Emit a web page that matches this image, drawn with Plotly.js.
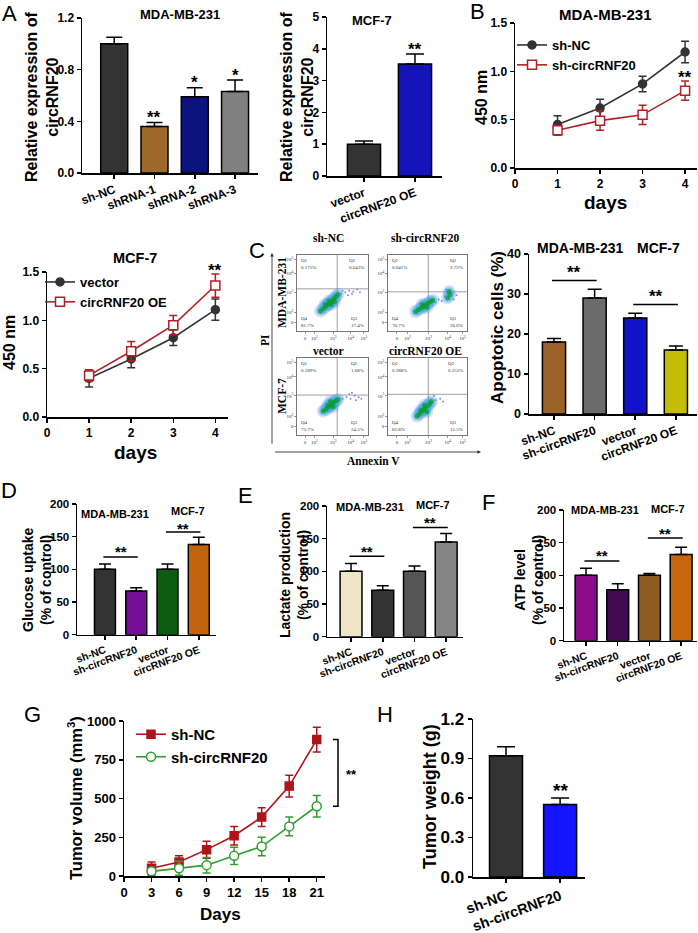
<!DOCTYPE html>
<html><head><meta charset="utf-8">
<script src="https://cdn.plot.ly/plotly-3.0.1.min.js"></script>
<style>html,body{margin:0;padding:0;background:#fff}</style>
</head><body><div id="chart" style="width:698px;height:933px"></div>
<script>
// ================= DATA =================
const aMdaCats = ['sh-NC', 'shRNA-1', 'shRNA-2', 'shRNA-3'];
const aMdaVals = [1.0, 0.36, 0.59, 0.63];
const aMdaErr = [0.05, 0.03, 0.07, 0.09];
const aMdaStars = ['', '**', '*', '*'];

const aMcfCats = ['vector', 'circRNF20 OE'];
const aMcfVals = [1.0, 3.52];
const aMcfErr = [0.1, 0.32];
const aMcfStars = ['', '**'];

const days = [1, 2, 3, 4];
const bShNC = [0.45, 0.62, 0.87, 1.20];
const bShNCErr = [0.09, 0.09, 0.08, 0.11];
const bShCirc = [0.39, 0.49, 0.55, 0.80];
const bShCircErr = [0.05, 0.10, 0.10, 0.10];

const mVector = [0.40, 0.60, 0.82, 1.11];
const mVectorErr = [0.09, 0.09, 0.08, 0.11];
const mOE = [0.43, 0.68, 0.95, 1.36];
const mOEErr = [0.06, 0.10, 0.10, 0.12];

const groupCats = ['sh-NC', 'sh-circRNF20', 'vector', 'circRNF20 OE'];
const apopVals = [18, 29, 24, 16];
const apopErr = [0.9, 2.2, 1.2, 1.0];
const glucoseVals = [100, 67, 100, 138];
const glucoseErr = [8, 5, 8, 11];
const lactateVals = [100, 71, 100, 145];
const lactateErr = [12, 7, 8, 13];
const atpVals = [100, 78, 100, 132];
const atpErr = [11, 9, 3, 11];

const tumorDays = [3, 6, 9, 12, 15, 18, 21];
const gShNC = [50, 90, 170, 260, 380, 580, 880];
const gShNCErr = [40, 40, 55, 60, 60, 70, 80];
const gShCirc = [30, 50, 70, 130, 190, 320, 450];
const gShCircErr = [25, 45, 50, 55, 60, 60, 70];

const hCats = ['sh-NC', 'sh-circRNF20'];
const hVals = [0.92, 0.55];
const hErr = [0.07, 0.05];

// flow cytometry (estimated from the dot plots)
const flowTitles = ['sh-NC', 'sh-circRNF20', 'vector', 'circRNF20 OE'];
const flowQ1 = ['0.175%', '0.041%', '0.189%', '0.288%'];
const flowQ2 = ['0.643%', '2.72%', '1.68%', '0.353%'];
const flowQ3 = ['17.4%', '26.6%', '24.5%', '15.5%'];
const flowQ4 = ['81.7%', '70.7%', '73.7%', '83.8%'];
const flowGateX = [3.0, 2.7, 3.0, 2.7];
const flowGateY = [2.94, 2.73, 2.75, 2.8];
const flowCoreX = [
  [1.75, 1.95, 2.15, 2.3, 2.45, 2.6, 2.75, 2.9, 3.05, 2.1, 2.55, 2.4, 2.8],
  [1.85, 2.05, 2.25, 2.4, 2.55, 2.7, 2.85, 3.0, 2.3, 2.6, 4.0, 4.15, 4.1],
  [1.95, 2.15, 2.3, 2.45, 2.6, 2.75, 2.9, 3.05, 2.3, 2.7, 2.5],
  [1.95, 2.1, 2.25, 2.4, 2.5, 2.65, 2.8, 2.9, 2.2, 2.6, 2.45]];
const flowCoreY = [
  [1.4, 1.55, 1.7, 1.85, 1.95, 2.1, 2.25, 2.4, 2.55, 1.85, 1.85, 2.1, 2.05],
  [1.35, 1.5, 1.6, 1.75, 1.85, 1.95, 2.05, 2.15, 1.85, 1.65, 2.3, 2.55, 2.75],
  [1.65, 1.75, 1.9, 2.0, 2.1, 2.25, 2.35, 2.45, 2.05, 1.95, 2.3],
  [1.3, 1.45, 1.6, 1.75, 1.85, 2.0, 2.15, 2.3, 1.7, 1.6, 2.05]];
const flowSparseX = [[3.3, 3.6, 3.9, 4.2, 4.5, 3.8, 4.1, 3.4, 4.7], [3.4, 3.8, 3.6, 4.4, 3.9, 3.2, 4.6], [3.4, 3.7, 4.0, 4.3, 4.6, 4.8, 3.9, 4.4, 4.1], [3.2, 3.5, 3.1, 3.7]];
const flowSparseY = [[2.6, 2.7, 2.8, 2.75, 2.9, 2.5, 2.6, 2.8, 2.7], [2.2, 2.4, 2.1, 2.2, 2.9, 2.0, 2.5], [2.5, 2.6, 2.5, 2.7, 2.6, 2.5, 2.8, 2.4, 2.9], [2.4, 2.5, 2.7, 2.3]];
const flowTickVals = [0.6, 1.3, 2.7, 4.0, 5.0];
const flowTickText = ['0', '10<sup>2</sup>', '10<sup>3</sup>', '10<sup>4</sup>', '10<sup>5</sup>'];

// ================= STYLE =================
const W = 698, H = 933;
const F = 'Arial, "Liberation Sans", sans-serif';
const SERIF = '"Liberation Serif", "Times New Roman", serif';
const colA1 = ['#333333', '#9e6a2c', '#0c137e', '#808080'];
const colA2 = ['#333333', '#1414b8'];
const colC = ['#9a6227', '#6b6b6b', '#1212c6', '#c4bc0a'];
const colD = ['#333333', '#760e96', '#0d5c12', '#c4630e'];
const colE = ['#ede5c6', '#333333', '#555555', '#858585'];
const colF = ['#8a0e8a', '#420a52', '#8e5c1e', '#c8660c'];
const colH = ['#333333', '#1414ff'];
const cDark = '#333333', cRed = '#b22025', cGRed = '#b0141b', cGGreen = '#2f9e2f';

const traces = [];
const annotations = [];
const shapes = [];
const layout = {
  width: W, height: H, margin: {l: 0, r: 0, t: 0, b: 0},
  paper_bgcolor: '#fff', plot_bgcolor: 'rgba(0,0,0,0)',
  showlegend: true, bargap: 0,
  font: {family: F, color: '#000'},
};

function axId(n) { return n === 1 ? '' : String(n); }
function axBase() {
  return {showline: true, linecolor: '#000', linewidth: 1.5, ticks: 'outside', ticklen: 4, tickwidth: 1.5,
    tickcolor: '#000', showgrid: false, zeroline: false, fixedrange: true,
    tickfont: {family: F, size: 12, weight: 700, color: '#000'}};
}
function setAxes(n, xpx, ypx, xr, yr, xo, yo) {
  const s = axId(n);
  layout['xaxis' + s] = Object.assign(axBase(), {domain: [xpx[0] / W, xpx[1] / W], range: xr, anchor: 'y' + s}, xo || {});
  layout['yaxis' + s] = Object.assign(axBase(), {domain: [1 - ypx[1] / H, 1 - ypx[0] / H], range: yr, anchor: 'x' + s}, yo || {});
}
function txt(text, px, py, size, o) {
  o = o || {};
  annotations.push(Object.assign({
    text: text, x: px / W, y: 1 - py / H, xref: 'paper', yref: 'paper', showarrow: false,
    xanchor: 'center', yanchor: 'middle',
    font: {family: o.family || F, size: size, weight: o.weight === undefined ? 700 : o.weight, color: '#000'}
  }, o.extra || {}));
}
function starAnn(s, x, y, text, size, shift) {
  annotations.push({text: text, x: x, y: y, xref: 'x' + s, yref: 'y' + s, showarrow: false,
    xanchor: 'center', yanchor: 'middle', yshift: shift, font: {family: F, size: size, weight: 700, color: '#000'}});
}
function barPanel(n, cats, vals, errs, colors, width, capW) {
  const s = axId(n);
  traces.push({type: 'bar', x: cats.map((c, i) => i), y: vals, width: width, xaxis: 'x' + s, yaxis: 'y' + s,
    marker: {color: colors, line: {color: '#000', width: 1.5}},
    error_y: {type: 'data', symmetric: false, array: errs, arrayminus: errs.map(() => 0), color: '#000', thickness: 1.5, width: capW},
    showlegend: false, hoverinfo: 'skip'});
}
function starsOnBars(n, vals, errs, stars, size, shift) {
  const s = axId(n);
  stars.forEach((st, i) => { if (st) starAnn(s, i, vals[i] + errs[i], st, size, shift); });
}
function bracket(n, vals, errs, i, j, off, size, shift) {
  const s = axId(n);
  const y = Math.max(vals[i] + errs[i], vals[j] + errs[j]) + off;
  traces.push({type: 'scatter', mode: 'lines', x: [i - 0.05, j + 0.05], y: [y, y], xaxis: 'x' + s, yaxis: 'y' + s,
    line: {color: '#000', width: 1.5}, showlegend: false, hoverinfo: 'skip'});
  starAnn(s, (i + j) / 2, y, '**', size, shift);
}
function lineSeries(n, xs, ys, errs, color, symbol, fill, size, name, legendId) {
  const s = axId(n);
  traces.push({type: 'scatter', mode: 'lines+markers', x: xs, y: ys, xaxis: 'x' + s, yaxis: 'y' + s, name: name,
    legend: legendId, line: {color: color, width: 1.6},
    marker: {symbol: symbol, size: size, color: fill, line: {color: color, width: 1.5}},
    error_y: {type: 'data', array: errs, color: color, thickness: 1.5, width: 4},
    hoverinfo: 'skip'});
}
function barXaxis(cats, size, angle) {
  return {tickvals: cats.map((c, i) => i), ticktext: cats, tickangle: angle,
    tickfont: {family: F, size: size, weight: 700, color: '#000'}};
}
function yTicks(vals, fmt, size) {
  const o = {tickvals: vals, tickfont: {family: F, size: size, weight: 700, color: '#000'}};
  if (fmt) o.tickformat = fmt;
  return o;
}

// ---------- Panel A (MDA-MB-231 bars) ----------
setAxes(1, [82, 258], [18, 173], [-0.8, 3.57], [0, 1.2], barXaxis(aMdaCats, 12, -20), yTicks([0, 0.4, 0.8, 1.2], '.1f', 12));
barPanel(1, aMdaCats, aMdaVals, aMdaErr, colA1, 0.67, 8);
starsOnBars(1, aMdaVals, aMdaErr, aMdaStars, 17, 5);
txt('MDA-MB-231', 180, 15, 13);
txt('Relative expression of<br>circRNF20', 42, 97, 16, {extra: {textangle: -90}});
txt('A', 9, 13, 22, {weight: 400});

// ---------- Panel A (MCF-7 bars) ----------
setAxes(2, [327, 442], [17, 176], [-0.725, 1.53], [0, 5], barXaxis(aMcfCats, 12, -20), yTicks([0, 1, 2, 3, 4, 5], null, 12));
barPanel(2, aMcfCats, aMcfVals, aMcfErr, colA2, 0.65, 9);
starsOnBars(2, aMcfVals, aMcfErr, aMcfStars, 17, 4);
txt('MCF-7', 372, 20, 13);
txt('Relative expression of<br>circRNF20', 297, 97, 16, {extra: {textangle: -90}});

// ---------- Panel B ----------
setAxes(3, [515, 697], [23, 168], [0, 4.28], [0, 1.5], {tickvals: [0, 1, 2, 3, 4]}, yTicks([0, 0.5, 1.0, 1.5], '.1f', 12));
lineSeries(3, days, bShNC, bShNCErr, cDark, 'circle', cDark, 8, 'sh-NC', 'legend');
lineSeries(3, days, bShCirc, bShCircErr, cRed, 'square', '#fff', 9, 'sh-circRNF20', 'legend');
starAnn('3', 4, bShCirc[3] + bShCircErr[3], '**', 17, 4);
txt('MDA-MB-231', 605, 15, 15);
txt('450 nm', 481, 97, 16, {extra: {textangle: -90}});
txt('days', 605, 202, 19);
txt('B', 477, 12, 22, {weight: 400});

// ---------- MCF-7 line ----------
setAxes(4, [47, 228], [272, 417], [0, 4.3], [0, 1.5], {tickvals: [0, 1, 2, 3, 4]}, yTicks([0, 0.5, 1.0, 1.5], '.1f', 12));
lineSeries(4, days, mVector, mVectorErr, cDark, 'circle', cDark, 8, 'vector', 'legend2');
lineSeries(4, days, mOE, mOEErr, cRed, 'square', '#fff', 9, 'circRNF20 OE', 'legend2');
starAnn('4', 4, mOE[3] + mOEErr[3], '**', 17, 3);
txt('MCF-7', 135, 258, 14.5);
txt('450 nm', 10, 343, 16, {extra: {textangle: -90}});
txt('days', 135, 452, 19);

// ---------- Panel C flow ----------
const flowBoxes = [[[297, 368], [255, 331]], [[388, 467], [255, 331]], [[297, 368], [358, 435]], [[388, 467], [358, 435]]];
const flowTitlePos = [[328, 238], [425, 238], [328, 351], [425, 351]];
for (let k = 0; k < 4; k++) {
  const n = 5 + k, s = axId(n);
  const fo = {range: [0, 5.3], tickvals: flowTickVals, ticktext: flowTickText, ticklen: 2, tickwidth: 0.6, linewidth: 0.8,
    linecolor: '#555', tickcolor: '#555', mirror: true, tickfont: {family: SERIF, size: 5, color: '#333'}};
  setAxes(n, flowBoxes[k][0], flowBoxes[k][1], [0, 5.3], [0, 5.3], fo, Object.assign({}, fo));
  traces.push({type: 'scatter', mode: 'lines', x: [flowGateX[k], flowGateX[k]], y: [0, 5.3], xaxis: 'x' + s, yaxis: 'y' + s, line: {color: '#888', width: 0.8}, showlegend: false, hoverinfo: 'skip'});
  traces.push({type: 'scatter', mode: 'lines', x: [0, 5.3], y: [flowGateY[k], flowGateY[k]], xaxis: 'x' + s, yaxis: 'y' + s, line: {color: '#888', width: 0.8}, showlegend: false, hoverinfo: 'skip'});
  traces.push({type: 'scatter', mode: 'markers', x: flowSparseX[k], y: flowSparseY[k], xaxis: 'x' + s, yaxis: 'y' + s, marker: {size: 2, color: '#7a8cff'}, showlegend: false, hoverinfo: 'skip'});
  [[13, 'rgba(80,110,255,0.22)'], [9, 'rgba(40,200,210,0.45)'], [5, 'rgba(20,150,50,0.75)']].forEach(l => {
    traces.push({type: 'scatter', mode: 'markers', x: flowCoreX[k], y: flowCoreY[k], xaxis: 'x' + s, yaxis: 'y' + s,
      marker: {size: l[0], color: l[1]}, showlegend: false, hoverinfo: 'skip'});
  });
  const qf = {family: SERIF, size: 5, color: '#333'};
  annotations.push({text: 'Q1<br>' + flowQ1[k], x: 0.15, y: 5.2, xref: 'x' + s, yref: 'y' + s, xanchor: 'left', yanchor: 'top', showarrow: false, align: 'left', font: qf});
  annotations.push({text: 'Q2<br>' + flowQ2[k], x: 5.15, y: 5.2, xref: 'x' + s, yref: 'y' + s, xanchor: 'right', yanchor: 'top', showarrow: false, align: 'left', font: qf});
  annotations.push({text: 'Q4<br>' + flowQ4[k], x: 0.15, y: 0.1, xref: 'x' + s, yref: 'y' + s, xanchor: 'left', yanchor: 'bottom', showarrow: false, align: 'left', font: qf});
  annotations.push({text: 'Q3<br>' + flowQ3[k], x: 5.15, y: 0.1, xref: 'x' + s, yref: 'y' + s, xanchor: 'right', yanchor: 'bottom', showarrow: false, align: 'left', font: qf});
  txt(flowTitles[k], flowTitlePos[k][0], flowTitlePos[k][1], 11.5, {family: SERIF});
}
txt('MDA-MB-231', 282, 293, 11.5, {family: SERIF, extra: {textangle: -90}});
txt('MCF-7', 282, 396, 11.5, {family: SERIF, extra: {textangle: -90}});
txt('PI', 265, 340, 11.5, {family: SERIF, extra: {textangle: -90}});
txt('Annexin V', 373, 461, 11.5, {family: SERIF});
txt('C', 257, 250, 22, {weight: 400});
annotations.push({text: ' ', x: 272 / W, y: 1 - 253 / H, xref: 'paper', yref: 'paper', ax: 0, ay: 199, axref: 'pixel', ayref: 'pixel', showarrow: true, arrowhead: 2, arrowsize: 0.8, arrowwidth: 0.9, arrowcolor: '#333'});
annotations.push({text: ' ', x: 481 / W, y: 1 - 452 / H, xref: 'paper', yref: 'paper', ax: -209, ay: 0, axref: 'pixel', ayref: 'pixel', showarrow: true, arrowhead: 2, arrowsize: 0.8, arrowwidth: 0.9, arrowcolor: '#333'});

// ---------- Panel C apoptosis bars ----------
setAxes(9, [529, 697], [254, 414], [-0.615, 3.52], [0, 40], barXaxis(groupCats, 12, -20), yTicks([0, 10, 20, 30, 40], null, 12.5));
barPanel(9, groupCats, apopVals, apopErr, colC, 0.57, 7);
bracket(9, apopVals, apopErr, 0, 1, 2.2, 17, 8);
bracket(9, apopVals, apopErr, 2, 3, 2.2, 17, 8);
txt('MDA-MB-231', 580, 248, 14);
txt('MCF-7', 658, 248, 14);
txt('Apoptotic cells (%)', 497, 328, 17, {extra: {textangle: -90}});

// ---------- Panel D ----------
setAxes(10, [77, 216], [504, 634.7], [-0.894, 3.55], [0, 200], barXaxis(groupCats, 10.5, -20), yTicks([0, 50, 100, 150, 200], null, 11.5));
barPanel(10, groupCats, glucoseVals, glucoseErr, colD, 0.67, 6);
bracket(10, glucoseVals, glucoseErr, 0, 1, 11, 15, 5);
bracket(10, glucoseVals, glucoseErr, 2, 3, 8, 15, 4);
txt('MDA-MB-231', 115, 514, 11);
txt('MCF-7', 188, 511, 11);
txt('Glucose uptake<br>(% of control)', 37, 580, 14, {extra: {textangle: -90}});
txt('D', 9, 490, 22, {weight: 400});

// ---------- Panel E ----------
setAxes(11, [327, 463], [506, 636.7], [-0.758, 3.53], [0, 200], barXaxis(groupCats, 10.5, -20), yTicks([0, 50, 100, 150, 200], null, 11.5));
barPanel(11, groupCats, lactateVals, lactateErr, colE, 0.69, 6);
bracket(11, lactateVals, lactateErr, 0, 1, 11, 15, 5);
bracket(11, lactateVals, lactateErr, 2, 3, 9, 15, 5);
txt('MDA-MB-231', 370, 507, 11);
txt('MCF-7', 433, 505, 11);
txt('Lactate production<br>(% of control)', 294, 575, 14, {extra: {textangle: -90}});
txt('E', 245, 495, 22, {weight: 400});

// ---------- Panel F ----------
setAxes(12, [564, 697], [510, 640.7], [-0.695, 3.5], [0, 200], barXaxis(groupCats, 10.5, -20), yTicks([0, 50, 100, 150, 200], null, 11.5));
barPanel(12, groupCats, atpVals, atpErr, colF, 0.69, 6);
bracket(12, atpVals, atpErr, 0, 1, 11, 15, 5);
bracket(12, atpVals, atpErr, 2, 3, 14, 15, 5);
txt('MDA-MB-231', 605, 510, 11);
txt('MCF-7', 668, 509, 11);
txt('ATP level<br>(% of control)', 529, 580, 14, {extra: {textangle: -90}});
txt('F', 488, 502, 22, {weight: 400});

// ---------- Panel G ----------
setAxes(13, [124, 325], [721, 876], [0, 21.9], [0, 1000],
  {tickvals: [0, 3, 6, 9, 12, 15, 18, 21], tickfont: {family: F, size: 13, weight: 700, color: '#000'}},
  yTicks([0, 250, 500, 750, 1000], null, 13));
lineSeries(13, tumorDays, gShNC, gShNCErr, cGRed, 'square', cGRed, 8, 'sh-NC', 'legend3');
lineSeries(13, tumorDays, gShCirc, gShCircErr, cGGreen, 'circle', '#fff', 9, 'sh-circRNF20', 'legend3');
const gTop = gShNC[gShNC.length - 1], gBot = gShCirc[gShCirc.length - 1];
shapes.push({type: 'path', xref: 'paper', yref: 'y13',
  path: `M ${333 / W} ${gTop} L ${338 / W} ${gTop} L ${338 / W} ${gBot} L ${333 / W} ${gBot}`,
  line: {color: '#000', width: 1.5}});
annotations.push({text: '**', x: 344 / W, y: (gTop + gBot) / 2, xref: 'paper', yref: 'y13', showarrow: false, xanchor: 'left', yanchor: 'middle', yshift: -2, font: {family: F, size: 13, weight: 700, color: '#000'}});
txt('Tumor volume (mm<sup>3</sup>)', 75, 798, 16.5, {extra: {textangle: -90}});
txt('Days', 220, 914, 17);
txt('G', 32, 714, 22, {weight: 400});

// ---------- Panel H ----------
setAxes(14, [473, 585], [719, 877], [-0.61, 1.46], [0, 1.2], barXaxis(hCats, 14.5, -20), yTicks([0, 0.3, 0.6, 0.9, 1.2], '.1f', 17));
barPanel(14, hCats, hVals, hErr, colH, 0.61, 9);
starsOnBars(14, hVals, hErr, ['', '**'], 19, 8);
txt('Tumor weight (g)', 430, 797, 18, {extra: {textangle: -90}});
txt('H', 385, 714, 22, {weight: 400});

// ---------- Legends ----------
layout.legend = {x: 512 / W, y: 1 - 30 / H, xanchor: 'left', yanchor: 'top', bgcolor: 'rgba(0,0,0,0)', borderwidth: 0,
  font: {family: F, size: 13, weight: 700, color: '#000'}, tracegroupgap: 0, itemwidth: 30};
layout.legend2 = {x: 40 / W, y: 1 - 267 / H, xanchor: 'left', yanchor: 'top', bgcolor: 'rgba(0,0,0,0)', borderwidth: 0,
  font: {family: F, size: 13, weight: 700, color: '#000'}, tracegroupgap: 0, itemwidth: 30};
layout.legend3 = {x: 131 / W, y: 1 - 718 / H, xanchor: 'left', yanchor: 'top', bgcolor: 'rgba(0,0,0,0)', borderwidth: 0,
  font: {family: F, size: 15, weight: 700, color: '#000'}, tracegroupgap: 0, itemwidth: 30};

layout.annotations = annotations;
layout.shapes = shapes;
Plotly.newPlot('chart', traces, layout, {staticPlot: true, displayModeBar: false});
</script></body></html>
